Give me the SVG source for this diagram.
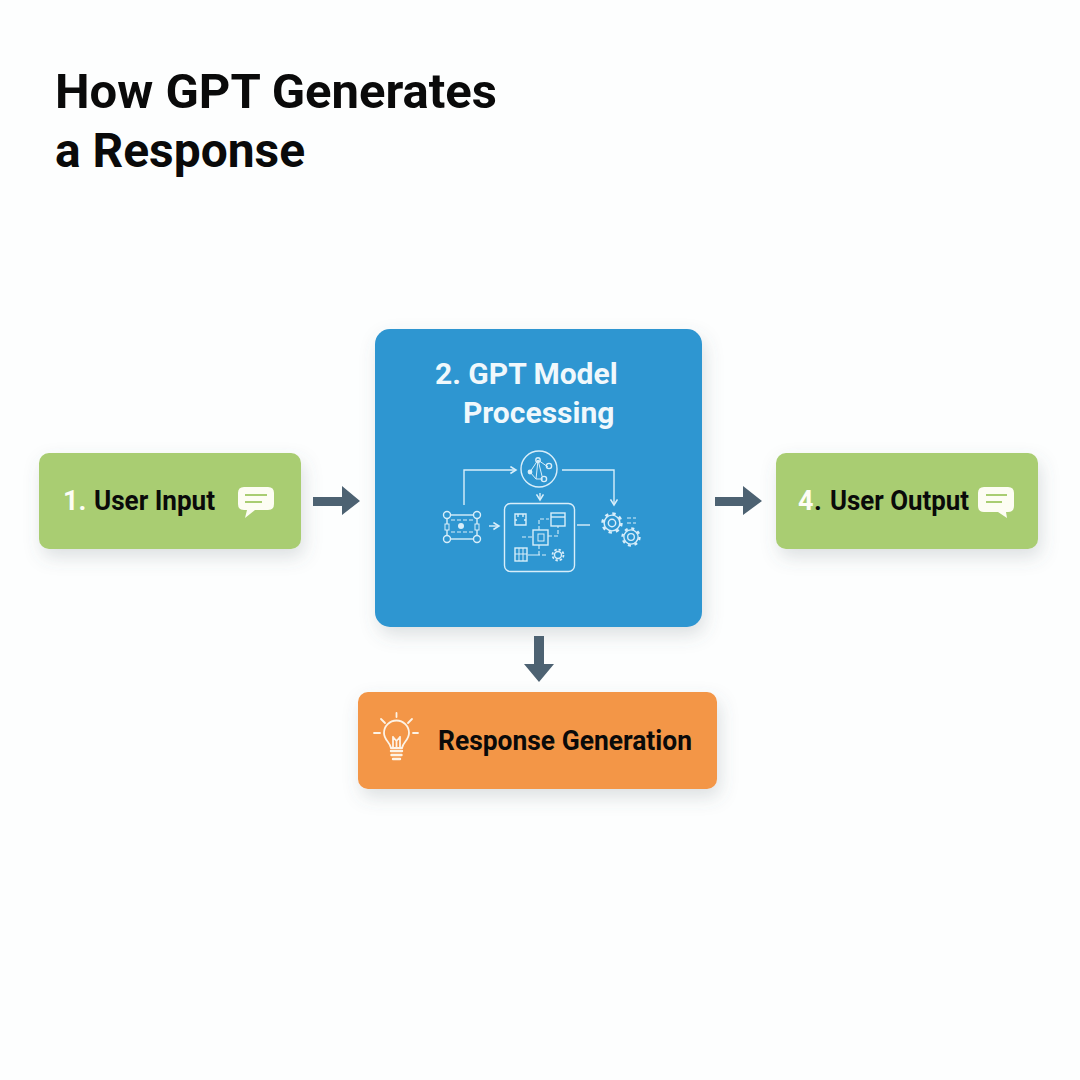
<svg xmlns="http://www.w3.org/2000/svg" width="1080" height="1080" viewBox="0 0 1080 1080">
<style>
text{font-family:Roboto,"Liberation Sans",sans-serif;font-weight:700}
.title{font-size:48px;fill:#0a0a0a}
.lab{font-size:27px;fill:#0a0a0a}
.big{font-size:30px;fill:#f0f8fc}
.wh{fill:#fdfdf5}
.ic{fill:none;stroke:#d8eefa;stroke-width:1.4}
.thin{stroke-width:1}
.dash{stroke-dasharray:4 2;stroke-width:1.1}
.hole{fill:#2f96d1}
.icd{fill:#d8eefa;stroke:none}
.bulb{fill:none;stroke:#fdf3e6;stroke-width:1.8;stroke-linecap:round}
.arr{fill:#4d6272}
</style>
<defs>
<filter id="sh" x="-20%" y="-20%" width="140%" height="150%"><feDropShadow dx="3" dy="8" stdDeviation="9" flood-color="#5a6a70" flood-opacity="0.2"/></filter>
<marker id="tip" markerWidth="7" markerHeight="7" refX="5" refY="3" orient="auto"><path d="M1 0.5L5 3L1 5.5" fill="none" stroke="#d8eefa" stroke-width="1.1"/></marker>
<g id="gear"><circle r="7.500" class="ic"/><circle r="9" class="ic" style="stroke-width:2.400;stroke-dasharray:3.200 3.870"/><circle r="3.500" class="ic"/></g>
</defs>
<rect width="1080" height="1080" fill="#fdfefe"/>
<g id="title"><text class="title" x="55" y="108" textLength="442" lengthAdjust="spacingAndGlyphs">How GPT Generates</text><text class="title" x="55" y="167" textLength="250" lengthAdjust="spacingAndGlyphs">a Response</text></g>
<g id="node-input">
<rect x="39" y="453" width="262" height="96" rx="10" fill="#a9cd72" filter="url(#sh)"/>
<text class="lab wh" x="63" y="510">1.</text><text class="lab" x="94" y="510" textLength="121" lengthAdjust="spacingAndGlyphs">User Input</text>
<path d="M244 487H268Q274 487 274 493V504Q274 510 268 510H255L245 518L247 510H244Q238 510 238 504V493Q238 487 244 487Z" fill="#fdfdf3"/>
<path d="M245 495H267M245 502H262" stroke="#a9cd72" stroke-width="1.8" fill="none"/>
</g>
<g id="node-model">
<rect x="375" y="329" width="327" height="298" rx="15" fill="#2f96d1" filter="url(#sh)"/>
<text class="big" x="435" y="384">2. GPT Model</text>
<text class="big" x="463" y="423">Processing</text>
<g id="model-icons">
<circle cx="539" cy="469" r="18" class="ic"/>
<path d="M530 472L538 460L548 467M538 460L536 479L543 479M530 472L536 479M538 460L542 476" class="ic thin"/>
<circle cx="538" cy="460" r="2.200" class="ic"/><circle cx="549" cy="466" r="2.600" class="ic"/><circle cx="544" cy="479" r="2.600" class="ic"/><circle cx="530" cy="472" r="2.400" class="icd"/>
<rect x="504.500" y="503.500" width="70" height="68" rx="6" class="ic"/>
<rect x="533" y="530" width="15" height="15" class="ic"/><rect x="538" y="534" width="6" height="7" class="ic thin"/>
<path d="M515 514h11v11h-11zM515 520h2M524 520h2M518 514v3M523 514v3" class="ic"/>
<rect x="551" y="513" width="14" height="13" class="ic"/><path d="M551 517h14" class="ic"/>
<rect x="515" y="548" width="12" height="13" class="ic"/><path d="M519 548v13M523 548v13M515 554h12" class="ic thin"/>
<circle cx="558" cy="555" r="3.500" class="ic"/><circle cx="558" cy="555" r="5.500" class="ic" style="stroke-width:1.800;stroke-dasharray:2.400 1.900"/>
<path d="M539 530V519H549M548 536H558V526M532 537H521M539 545V555H528M530 555H548" class="ic dash"/>
<path d="M464 505V470H516" class="ic" marker-end="url(#tip)"/>
<path d="M562 470H614V505" class="ic" marker-end="url(#tip)"/>
<path d="M540 493V500" class="ic" marker-end="url(#tip)"/>
<path d="M489 526H499" class="ic" marker-end="url(#tip)"/>
<path d="M577 525H590" class="ic"/>
<rect x="447" y="515" width="30" height="24" class="ic"/>
<circle cx="447" cy="515" r="3.500" class="ic hole"/><circle cx="477" cy="515" r="3.500" class="ic hole"/><circle cx="447" cy="539" r="3.500" class="ic hole"/><circle cx="477" cy="539" r="3.500" class="ic hole"/>
<rect x="445" y="524" width="4" height="6" class="ic hole thin"/><rect x="475" y="524" width="4" height="6" class="ic hole thin"/>
<circle cx="461" cy="526" r="3" class="icd"/>
<path d="M451 520H473M451 532H473" class="ic dash"/>
<use href="#gear" transform="translate(612 523) scale(1.050)"/><use href="#gear" transform="translate(631 537) scale(.95)"/>
<path d="M627 518h9M627 523h9" class="ic dash"/>
</g>
</g>
<g id="node-output">
<rect x="776" y="453" width="262" height="96" rx="10" fill="#a9cd72" filter="url(#sh)"/>
<text class="lab wh" x="798" y="510">4</text><text class="lab" x="814" y="510">.</text><text class="lab" x="830" y="510" textLength="139" lengthAdjust="spacingAndGlyphs">User Output</text>
<path d="M984 487H1008Q1014 487 1014 493V506Q1014 512 1008 512H1006L1007 518L998 512H984Q978 512 978 506V493Q978 487 984 487Z" fill="#fdfdf3"/>
<path d="M986 495H1007M986 502H1002" stroke="#a9cd72" stroke-width="1.800" fill="none"/>
</g>
<g id="node-response">
<rect x="358" y="692" width="359" height="97" rx="10" fill="#f39646" filter="url(#sh)"/>
<text class="lab" x="438" y="750" textLength="254" lengthAdjust="spacingAndGlyphs">Response Generation</text>
<g id="bulb" class="bulb">
<path d="M391 748C390 742 384 740 384 733A12.500 12.500 0 0 1 409 733C409 740 403 742 402 748Z"/>
<path d="M391 751H402M391.500 755H401.500M393 759H400" style="stroke-width:2.400"/>
<path d="M393 747V737M400 747V737M393 737L396.500 741L400 737M396.500 741V747" style="stroke-width:1.800"/>
<path d="M396.500 713V717M381 719L385 723M412 719L408 723M374 733H380M413 733H418"/>
</g>
</g>
<g id="connectors" class="arr">
<path d="M313 497H342V486L360 501L342 515V506H313Z"/>
<path d="M715 497H743V486L762 501L743 515V506H715Z"/>
<path d="M534 636H544V664H554L539 682L524 664H534Z"/>
</g>
</svg>
